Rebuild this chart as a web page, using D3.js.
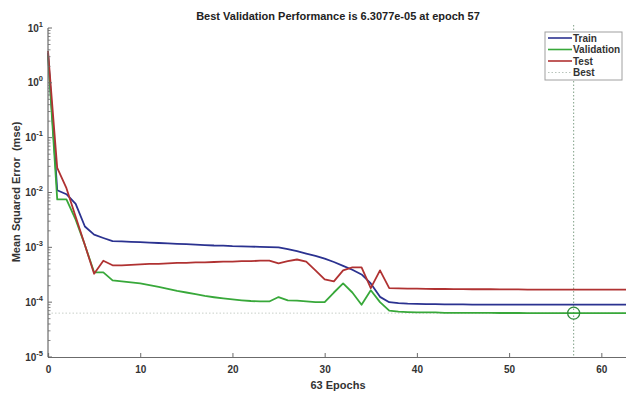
<!DOCTYPE html>
<html>
<head>
<meta charset="utf-8">
<script src="https://cdn.jsdelivr.net/npm/d3@7"></script>
<style>
  html, body { margin: 0; padding: 0; background: #fff; }
  svg { display: block; font-family: "Liberation Sans", Arial, Helvetica, sans-serif; }
</style>
</head>
<body>
<svg id="chart" width="626" height="394"></svg>
<script>
// Training record: mean squared error per epoch (epochs 0..63)
const trainMse = [3.5, 0.011, 0.0093, 0.0062, 0.0024, 0.0017, 0.00148, 0.0013, 0.00128, 0.00126,
  0.00124, 0.00122, 0.0012, 0.00118, 0.00116, 0.00114, 0.00112, 0.0011, 0.00108, 0.00107,
  0.00105, 0.00104, 0.00103, 0.00102, 0.00101, 0.001, 0.00093, 0.00085, 0.00077, 0.0007,
  0.00062, 0.00054, 0.00046, 0.00039, 0.00032, 0.00022, 0.000125, 0.0001, 0.000096, 0.000094,
  0.000093, 0.000092, 0.000092, 0.000091, 0.000091, 0.000091, 0.00009, 0.00009, 0.00009, 0.00009,
  0.00009, 0.00009, 0.00009, 0.00009, 0.00009, 0.00009, 0.00009, 0.00009, 0.00009, 0.00009,
  0.00009, 0.00009, 0.00009, 0.00009];

const validationMse = [3.2, 0.0075, 0.0075, 0.0032, 0.0011, 0.00035, 0.00035, 0.00025, 0.00024, 0.00023,
  0.00022, 0.000205, 0.00019, 0.000175, 0.00016, 0.00015, 0.00014, 0.00013, 0.000123, 0.000117,
  0.000112, 0.000108, 0.000105, 0.000103, 0.000103, 0.000124, 0.000108, 0.000107, 0.000103, 0.0001,
  0.0001, 0.00015, 0.00022, 0.00015, 0.00009, 0.000165, 0.0001, 0.00007, 0.000067, 0.000066,
  0.000065, 0.000065, 0.000065, 0.000064, 0.000064, 0.000064, 0.000064, 0.000064, 0.000064, 0.0000635,
  0.0000635, 0.0000634, 0.0000633, 0.0000633, 0.0000632, 0.0000632, 0.0000631, 0.000063077, 0.0000631, 0.0000631,
  0.0000632, 0.0000632, 0.0000632, 0.0000633];

const testMse = [3.8, 0.028, 0.012, 0.0036, 0.0011, 0.00033, 0.00057, 0.00047, 0.00047, 0.00048,
  0.00049, 0.0005, 0.0005, 0.00051, 0.00052, 0.00052, 0.00053, 0.00053, 0.00054, 0.00055,
  0.00055, 0.00056, 0.00056, 0.00057, 0.00057, 0.00051, 0.00056, 0.0006, 0.00055, 0.00038,
  0.00026, 0.00024, 0.00038, 0.00043, 0.00043, 0.00018, 0.00038, 0.00018, 0.000178, 0.000177,
  0.000176, 0.000175, 0.000174, 0.000174, 0.000173, 0.000173, 0.000172, 0.000172, 0.000172, 0.000171,
  0.000171, 0.000171, 0.00017, 0.00017, 0.00017, 0.00017, 0.00017, 0.00017, 0.00017, 0.00017,
  0.00017, 0.00017, 0.00017, 0.00017];

const bestEpoch = 57;
const bestPerf = 6.3077e-5;
const totalEpochs = 63;

const xTicks = [0, 10, 20, 30, 40, 50, 60];
const yExponents = [1, 0, -1, -2, -3, -4, -5];

const seriesNames = ["Train", "Validation", "Test"];
const seriesColors = ["#2b3290", "#38a83a", "#b03232"];
const seriesData = [trainMse, validationMse, testMse];

const svg = d3.select("#chart");

const plotLeft = 48, plotRight = 629, plotTop = 28, plotBottom = 357;

const x = d3.scaleLinear().domain([0, totalEpochs]).range([plotLeft, plotRight]);
const y = d3.scaleLog().domain([1e-5, 1e1]).range([plotBottom, plotTop]);

const axisColor = "#6b6b6b";
const textColor = "#333";

// Title
svg.append("text")
  .attr("x", 338).attr("y", 20)
  .attr("text-anchor", "middle")
  .attr("font-size", 11).attr("font-weight", "bold")
  .attr("fill", "#222")
  .text(`Best Validation Performance is ${d3.format(".4e")(bestPerf).replace("e-5", "e-05")} at epoch ${bestEpoch}`);

// Best-performance guide lines
svg.append("line")
  .attr("x1", plotLeft).attr("x2", 626)
  .attr("y1", y(bestPerf)).attr("y2", y(bestPerf))
  .attr("stroke", "#c8cfc8").attr("stroke-width", 1)
  .attr("stroke-dasharray", "1.5,2");

svg.append("line")
  .attr("x1", x(bestEpoch)).attr("x2", x(bestEpoch))
  .attr("y1", plotTop - 3).attr("y2", plotBottom)
  .attr("stroke", "#7f9f86").attr("stroke-width", 1)
  .attr("stroke-dasharray", "1.5,2");

// Series lines
const line = d3.line()
  .x((d, i) => x(i))
  .y(d => y(d));

seriesData.forEach((vals, k) => {
  svg.append("path")
    .datum(vals)
    .attr("fill", "none")
    .attr("stroke", seriesColors[k])
    .attr("stroke-width", 1.8)
    .attr("stroke-linejoin", "round")
    .attr("d", line);
});

// Best marker
svg.append("circle")
  .attr("cx", x(bestEpoch)).attr("cy", y(bestPerf))
  .attr("r", 6)
  .attr("fill", "none")
  .attr("stroke", "#2f8a3a").attr("stroke-width", 1.3);

// X axis
const xAxis = d3.axisBottom(x)
  .tickValues(xTicks)
  .tickSize(-4)
  .tickPadding(9)
  .tickFormat(d3.format("d"));

const gx = svg.append("g")
  .attr("transform", `translate(0,${plotBottom})`)
  .call(xAxis);
gx.select(".domain").attr("stroke", axisColor).attr("stroke-width", 1.2);
gx.selectAll(".tick line").attr("stroke", axisColor);
gx.selectAll(".tick text")
  .attr("font-size", 10).attr("font-weight", "bold")
  .attr("fill", textColor)
  .attr("font-family", "Liberation Sans, Arial, sans-serif");

// Y axis: log scale with minor ticks inside
const minorTicks = y.ticks().filter(v => {
  const m = v / Math.pow(10, Math.floor(Math.log10(v) + 1e-9));
  return Math.abs(m - 1) > 1e-6;
});

const gy = svg.append("g").attr("transform", `translate(${plotLeft},0)`);
gy.append("line")
  .attr("y1", plotTop).attr("y2", plotBottom)
  .attr("stroke", axisColor).attr("stroke-width", 1.2);
gy.selectAll("line.minor")
  .data(minorTicks)
  .join("line")
  .attr("class", "minor")
  .attr("x1", 0).attr("x2", 2.5)
  .attr("y1", d => y(d)).attr("y2", d => y(d))
  .attr("stroke", axisColor).attr("stroke-width", 0.8);
gy.selectAll("line.major")
  .data(yExponents)
  .join("line")
  .attr("class", "major")
  .attr("x1", 0).attr("x2", 4)
  .attr("y1", d => y(Math.pow(10, d))).attr("y2", d => y(Math.pow(10, d)))
  .attr("stroke", axisColor);

const yLabels = svg.append("g");
yExponents.forEach(e => {
  const t = yLabels.append("text")
    .attr("x", 43)
    .attr("y", y(Math.pow(10, e)) + 3.5)
    .attr("text-anchor", "end")
    .attr("font-size", 10).attr("font-weight", "bold")
    .attr("fill", textColor);
  t.append("tspan").text("10");
  t.append("tspan")
    .attr("dy", -5)
    .attr("font-size", 7.5)
    .text(String(e));
});

// Axis titles
svg.append("text")
  .attr("x", 338).attr("y", 389)
  .attr("text-anchor", "middle")
  .attr("font-size", 11).attr("font-weight", "bold")
  .attr("fill", textColor)
  .text(`${totalEpochs} Epochs`);

svg.append("text")
  .attr("transform", "translate(20,192) rotate(-90)")
  .attr("text-anchor", "middle")
  .attr("font-size", 11).attr("font-weight", "bold")
  .attr("fill", textColor)
  .attr("xml:space", "preserve")
  .text("Mean Squared Error  (mse)");

// Legend
const legend = svg.append("g").attr("transform", "translate(545,32)");
legend.append("rect")
  .attr("width", 77).attr("height", 48)
  .attr("fill", "#fff")
  .attr("stroke", "#a0a0a0").attr("stroke-width", 1);

const legendItems = seriesNames.map((n, i) => ({ name: n, color: seriesColors[i], dash: null }))
  .concat([{ name: "Best", color: "#b8c4bc", dash: "1.5,2" }]);

legendItems.forEach((item, i) => {
  const yy = 6 + i * 11.5;
  legend.append("line")
    .attr("x1", 3).attr("x2", 27)
    .attr("y1", yy).attr("y2", yy)
    .attr("stroke", item.color)
    .attr("stroke-width", item.dash ? 1 : 1.6)
    .attr("stroke-dasharray", item.dash);
  legend.append("text")
    .attr("x", 28).attr("y", yy + 3.5)
    .attr("font-size", 10).attr("font-weight", "bold")
    .attr("fill", textColor)
    .text(item.name);
});
</script>
</body>
</html>
